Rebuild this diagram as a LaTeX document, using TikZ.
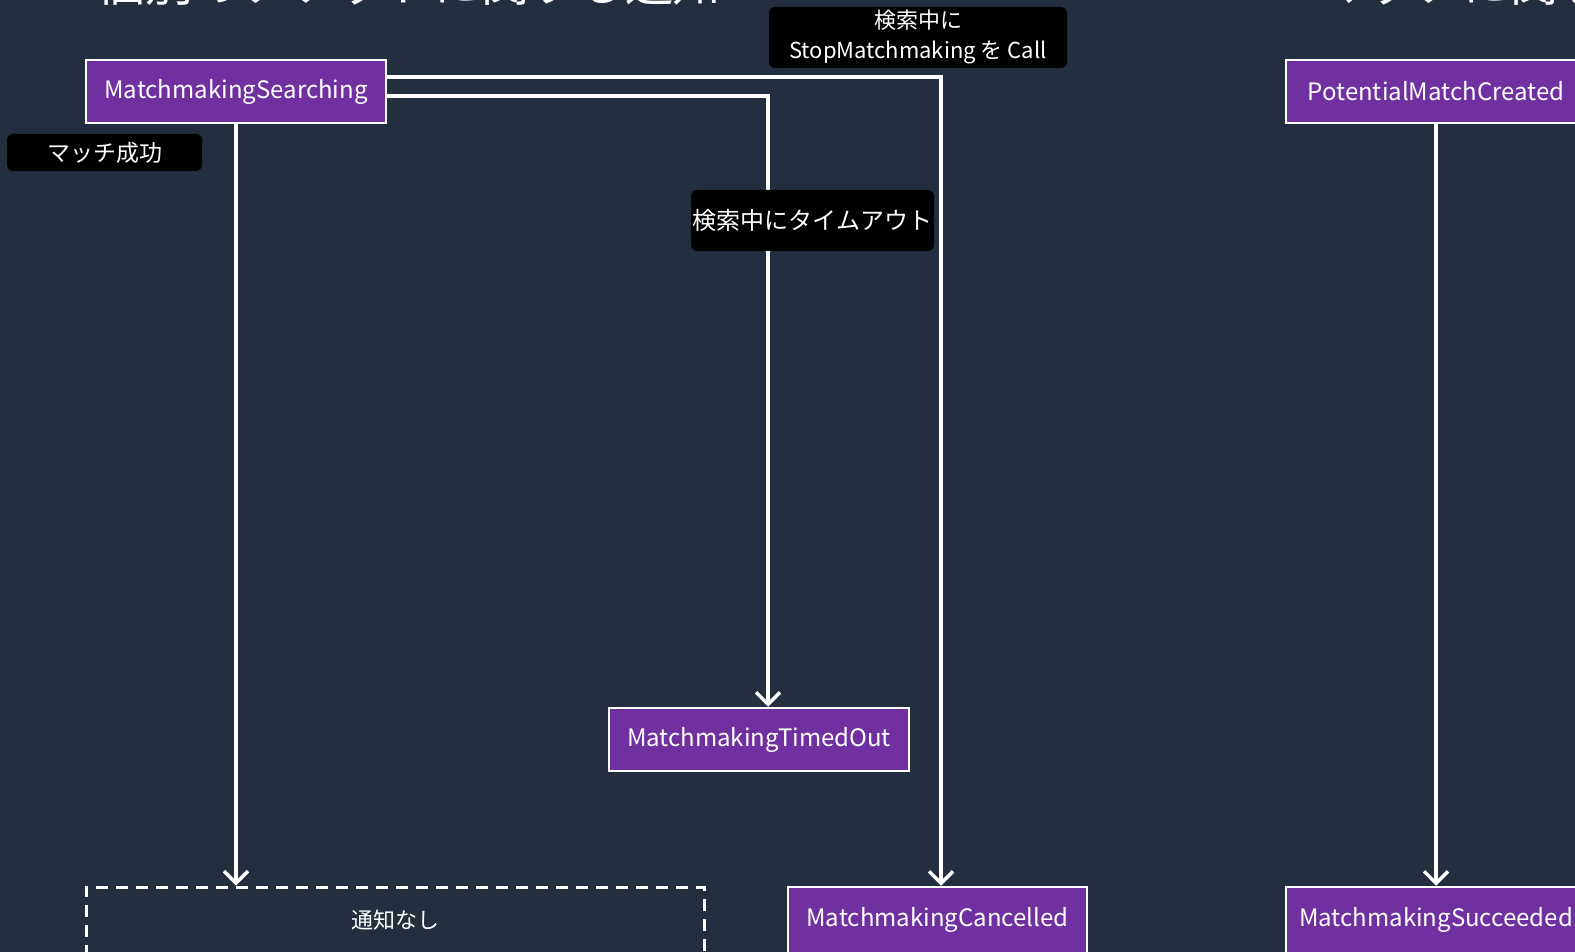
\documentclass[tikz,border=0pt]{standalone}
\usepackage{fontspec}
\setmainfont{Noto Sans CJK JP}
\usetikzlibrary{arrows.meta}

\definecolor{bgnavy}{HTML}{232F3E}
\definecolor{eventpurple}{HTML}{7030A0}

\tikzset{
  event/.style={draw=white, line width=2.5pt, fill=eventpurple, text=white,
    minimum width=300pt, minimum height=63pt, inner sep=0pt,
    font=\fontsize{24}{28}\selectfont},
  nonote/.style={draw=white, line width=3pt, dash pattern=on 12pt off 8pt,
    minimum width=618pt, minimum height=66pt, inner sep=0pt, text=white,
    font=\fontsize{22}{26}\selectfont},
  tag/.style={fill=black, rounded corners=6pt, text=white, inner sep=0pt,
    align=center, font=\fontsize{22}{30}\selectfont},
  flow/.style={white, line width=3.5pt,
    -{Straight Barb[length=12pt,width=24pt,line width=3.5pt]}},
  heading/.style={text=white, inner sep=0pt, font=\fontsize{48}{54}\selectfont}
}

\begin{document}
\begin{tikzpicture}[x=1pt, y=-1pt]

\useasboundingbox (0,0) rectangle (1575,952);
\clip (0,0) rectangle (1575,952);
\fill[bgnavy] (0,0) rectangle (1575,952);

% headings, cut by the top edge
\node (headticket) at (409,-17) [heading] {個別のチケットに関する通知};
\node (headmatch) at (1318,-17) [heading, anchor=west] {マッチに関する通知};

% events
\node (searching) at (236,91.5) [event] {MatchmakingSearching};
\node (potential) at (1436,91.5) [event] {PotentialMatchCreated};
\node (timedout) at (759,739.5) [event] {MatchmakingTimedOut};
\node (cancelled) at (937.5,920) [event, minimum width=299pt, minimum height=66pt] {MatchmakingCancelled};
\node (succeeded) at (1436,920) [event, minimum height=66pt] {MatchmakingSucceeded};
\node (nonotice) at (395,920) [nonote] {通知なし};

% transitions
\coordinate (cancelin) at ([xshift=3.5pt]cancelled.north);
\coordinate (timeoutin) at ([xshift=9pt]timedout.north);
\draw [flow] ([yshift=14.5pt]searching.east) -| (cancelin);
\draw [flow] ([yshift=-4.5pt]searching.east) -| (timeoutin);
\draw [flow] (searching.south) -- (searching.south |- nonotice.north);
\draw [flow] (potential.south) -- (succeeded.north);

% conditions
\node (stopcall) at (918,37.5) [tag, minimum width=298pt, minimum height=61pt] {検索中に\\StopMatchmaking を Call};
\node (matched) at (104.5,152.5) [tag, minimum width=195pt, minimum height=37pt, font=\fontsize{23}{27}\selectfont] {マッチ成功};
\node (timeout) at (812.5,220.5) [tag, minimum width=243pt, minimum height=61pt, font=\fontsize{24}{28}\selectfont] {検索中にタイムアウト};

\end{tikzpicture}
\end{document}
